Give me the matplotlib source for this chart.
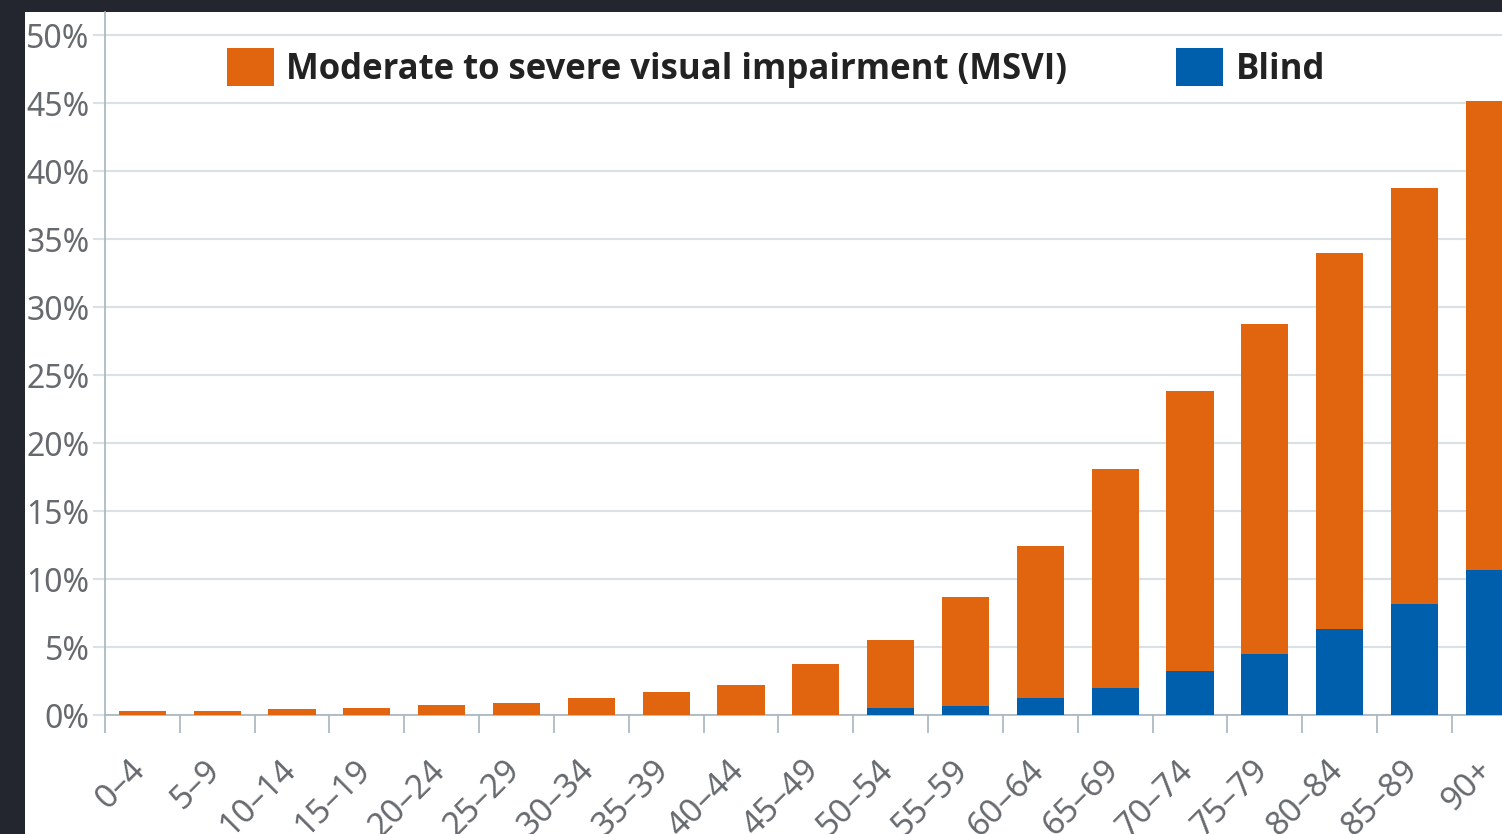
import matplotlib
matplotlib.use("Agg")
import matplotlib.pyplot as plt
import matplotlib.transforms as mtransforms
from matplotlib.patches import Patch, Rectangle
import numpy as np

# prevalence by age group, % of population
age_groups = ['0–4', '5–9', '10–14', '15–19', '20–24', '25–29', '30–34',
              '35–39', '40–44', '45–49', '50–54', '55–59', '60–64', '65–69',
              '70–74', '75–79', '80–84', '85–89', '90+']
blind = [0.0, 0.0, 0.0, 0.0, 0.0, 0.0, 0.0, 0.0, 0.0, 0.0,
         0.5, 0.65, 1.25, 2.0, 3.2, 4.5, 6.3, 8.15, 10.65]
total = [0.3, 0.3, 0.45, 0.5, 0.7, 0.9, 1.25, 1.7, 2.2, 3.75,
         5.5, 8.7, 12.4, 18.1, 23.8, 28.75, 34.0, 38.75, 45.15]
msvi = [t - b for t, b in zip(total, blind)]
yticks = [0, 5, 10, 15, 20, 25, 30, 35, 40, 45, 50]

orange = '#e1650e'
blue = '#005fad'
grid_c = '#d9e1e5'
axis_c = '#a7b5bd'
label_c = '#666a6e'

W, H = 1502, 834
fig = plt.figure(figsize=(W / 100, H / 100), dpi=100, facecolor='#23262f')
fig.patches.append(Rectangle((25 / W, 0), 1 - 25 / W, 1 - 12 / H,
                             transform=fig.transFigure, facecolor='white',
                             edgecolor='none', zorder=-10))

ax = fig.add_axes([105 / W, 1 - 715 / H, 1 - 105 / W, (715 - 12) / H])
ax.set_facecolor('none')
ax.set_zorder(1)

x = np.arange(len(age_groups))
ax.bar(x, blind, width=0.63, color=blue, zorder=3)
ax.bar(x, msvi, width=0.63, bottom=blind, color=orange, zorder=3)

for s in ['top', 'right']:
    ax.spines[s].set_visible(False)
ax.spines['left'].set_color(axis_c)
ax.spines['bottom'].set_color(axis_c)
ax.spines['left'].set_linewidth(1.2)
ax.spines['bottom'].set_linewidth(1.2)

ax.set_yticks(yticks)
ax.set_yticklabels([f'{v}%' for v in yticks], family='Noto Sans',
                   fontsize=23, color=label_c)
ax.yaxis.grid(True, color=grid_c, linewidth=1.5, zorder=0)
ax.tick_params(axis='y', length=9, color=grid_c, width=1.5, pad=2)

ax.set_xticks(x)
ax.set_xticklabels(age_groups, family='Noto Sans', fontsize=24,
                   color=label_c, rotation=45, ha='right', va='top')
ax.set_xticks(np.arange(-0.5, len(age_groups), 1), minor=True)
ax.tick_params(axis='x', which='major', length=0, pad=28)
ax.tick_params(axis='x', which='minor', length=13, color=axis_c, width=1.2)
shift = mtransforms.ScaledTranslation(10 / 100, 0, fig.dpi_scale_trans)
for lab in ax.get_xticklabels():
    lab.set_transform(lab.get_transform() + shift)

ax.set_xlim(-0.5, 18.17)
ax.set_ylim(0, 51.7)

handles = [Patch(facecolor=orange, label='Moderate to severe visual impairment (MSVI)'),
           Patch(facecolor=blue, label='Blind')]
leg = fig.legend(handles=handles, loc='center left',
                 bbox_to_anchor=(227 / W, 1 - 68 / H), ncol=2, frameon=False,
                 borderpad=0, borderaxespad=0, handlelength=1.35,
                 handleheight=1.3, handletextpad=0.35, columnspacing=3.15,
                 prop={'family': 'Open Sans', 'weight': 'bold', 'size': 25})
leg.set_zorder(5)
for t in leg.get_texts():
    t.set_color('#222222')

fig.savefig('out.png', dpi=100, facecolor=fig.get_facecolor())
